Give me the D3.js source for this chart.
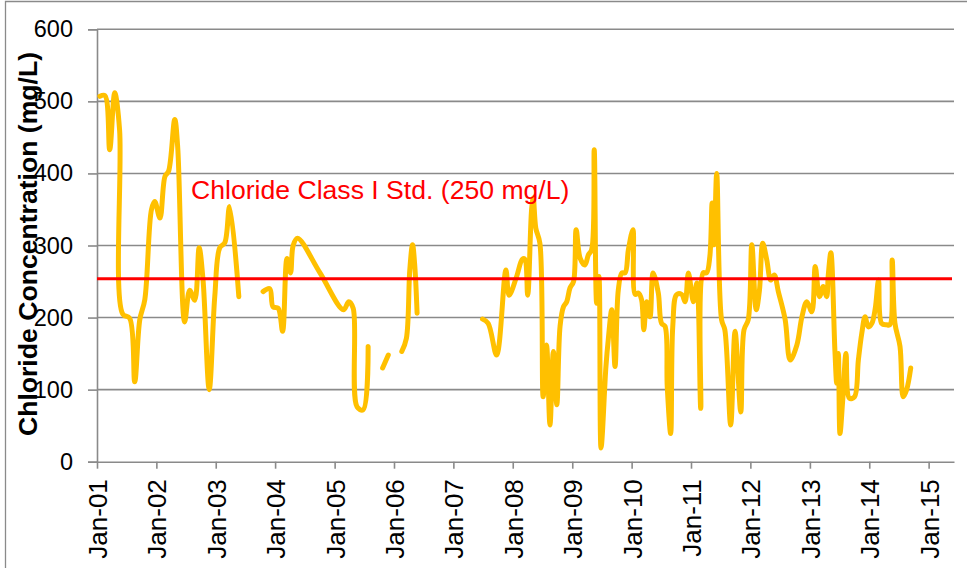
<!DOCTYPE html>
<html>
<head>
<meta charset="utf-8">
<script src="https://cdn.jsdelivr.net/npm/d3@7"></script>
<style>
  html, body { margin: 0; padding: 0; background: #fff; }
  svg { display: block; font-family: "Liberation Sans", Arial, sans-serif; }
</style>
</head>
<body>
<svg id="chart" width="967" height="568"></svg>
<script>
// ---- data ----
const yTicks = [0, 100, 200, 300, 400, 500, 600];
const stdValue = 254;
const stdLabel = "Chloride Class I Std. (250 mg/L)";
const yTitle = "Chloride Concentration (mg/L)";

const dates = [
  "2001-01-19","2001-02-19","2001-03-20","2001-04-20","2001-05-20","2001-06-08","2001-07-21","2001-08-21","2001-09-21","2001-10-22","2001-12-02","2001-12-22",
  "2002-01-23","2002-02-23","2002-03-17","2002-04-24","2002-05-12","2002-06-24","2002-07-25","2002-08-25","2002-09-21","2002-10-15","2002-11-22","2002-12-26",
  "2003-01-26","2003-02-26","2003-03-27","2003-05-23",
  "2003-08-01",
  "2003-10-19","2003-11-29","2003-12-19","2004-01-20","2004-02-16","2004-03-14","2004-04-05","2004-04-21","2004-05-18","2004-10-03",
  "2005-02-24","2005-03-29","2005-04-25","2005-05-19","2005-06-25","2005-07-26",
  "2005-09-01",
  "2005-10-23","2005-11-27",
  "2006-01-01",
  "2006-02-18","2006-03-18","2006-04-08","2006-04-25","2006-05-09","2006-05-23",
  "2007-01-01",
  "2007-06-29","2007-08-03","2007-09-24","2007-11-20","2007-12-10",
  "2008-01-25","2008-02-29","2008-03-15","2008-04-02","2008-04-26","2008-05-06","2008-05-22","2008-06-16","2008-07-06","2008-07-27","2008-08-17","2008-09-07","2008-09-28","2008-10-18","2008-11-08","2008-11-28","2008-12-18",
  "2009-01-09","2009-01-25","2009-02-19","2009-03-20","2009-04-10","2009-04-30","2009-05-16","2009-05-31","2009-06-14","2009-06-27","2009-07-27","2009-08-11","2009-09-01","2009-09-21","2009-10-11","2009-11-02","2009-11-22","2009-12-12",
  "2010-01-09","2010-01-23","2010-02-12","2010-03-03","2010-03-17","2010-04-03","2010-04-24","2010-05-13","2010-06-14","2010-07-04","2010-07-25","2010-08-08","2010-08-29","2010-09-11","2010-10-05","2010-11-05","2010-11-26","2010-12-16",
  "2011-01-16","2011-02-06","2011-03-02","2011-03-17","2011-04-07","2011-04-27","2011-05-11","2011-05-23","2011-06-08","2011-07-08","2011-07-28","2011-09-02","2011-09-29","2011-11-03","2011-11-23","2011-12-19",
  "2012-01-10","2012-02-06","2012-02-26","2012-03-17","2012-04-11","2012-05-05","2012-05-27","2012-06-21","2012-08-02","2012-09-02","2012-10-13","2012-11-13","2012-12-13",
  "2013-01-13","2013-02-03","2013-03-01","2013-03-24","2013-04-14","2013-04-24","2013-05-10","2013-06-04","2013-06-15","2013-06-25","2013-07-05","2013-07-22","2013-08-11","2013-09-01","2013-10-02","2013-10-26","2013-11-16","2013-12-06","2013-12-26",
  "2014-01-17","2014-02-07","2014-02-27","2014-03-18","2014-04-18","2014-05-08","2014-05-22","2014-06-08","2014-07-09","2014-07-29","2014-08-19","2014-09-13"
];

const chloride = [
  507,508,433,512,460,205,199,111,197,225,350,361,
  338,396,403,475,437,194,238,224,297,252,100,229,
  297,304,354,229,
  null,
  236,240,215,213,181,282,262,300,310,262,
  211,222,213,76,72,160,
  null,
  130,148,
  null,
  153,171,266,301,271,206,
  null,
  198,192,148,266,231,
  257,281,281,231,350,366,324,303,90,162,51,153,79,188,215,222,241,
  250,322,282,273,287,294,433,220,257,19,132,171,211,132,238,262,262,294,
  322,232,234,225,183,222,201,262,234,192,188,104,39,188,232,232,222,262,
  222,248,74,262,262,285,359,301,400,197,183,51,181,69,183,197,
  301,211,238,303,280,252,259,236,197,141,162,201,222,
  208,271,229,243,229,259,290,153,109,150,39,86,150,88,90,141,178,201,187,
  192,213,252,192,190,190,280,192,160,90,100,130
];

// ---- layout ----
const svg = d3.select("#chart");
const L = 97, R = 954, T = 29.3, B = 461.7;
const parse = d3.timeParse("%Y-%m-%d");
const points = dates.map((d, i) => ({ date: parse(d), value: chloride[i] }));

const x = d3.scaleTime()
  .domain([new Date(2001, 0, 1), new Date(2015, 5, 6)])
  .range([L, R]);
const y = d3.scaleLinear().domain([0, 600]).range([B, T]);

const grey = "#8a8a8a";

// outer frame
svg.append("path")
  .attr("d", `M5.5,568 V1.5 H967`)
  .attr("fill", "none").attr("stroke", grey).attr("stroke-width", 1.3);

// gridlines
svg.append("g").selectAll("line")
  .data(yTicks.filter(v => v > 0))
  .join("line")
  .attr("x1", L).attr("x2", R)
  .attr("y1", d => y(d)).attr("y2", d => y(d))
  .attr("stroke", grey).attr("stroke-width", 1.6);

// y axis
const yAxis = svg.append("g")
  .attr("transform", `translate(${L},0)`)
  .call(d3.axisLeft(y).tickValues(yTicks).tickSize(9).tickPadding(15));
yAxis.select(".domain").attr("stroke", grey).attr("stroke-width", 1.6);
yAxis.selectAll(".tick line").attr("stroke", grey).attr("stroke-width", 1.6);
yAxis.selectAll("text")
  .attr("font-size", 23.5).attr("fill", "#000")
  .attr("font-family", "'Liberation Sans', Arial, sans-serif");

// x axis
const xAxis = svg.append("g")
  .attr("transform", `translate(0,${B})`)
  .call(d3.axisBottom(x).ticks(d3.timeYear.every(1)).tickFormat(d3.timeFormat("Jan-%y")).tickSize(7).tickSizeOuter(0));
xAxis.select(".domain").attr("stroke", grey).attr("stroke-width", 1.6);
xAxis.selectAll(".tick line").attr("stroke", grey).attr("stroke-width", 1.6);
xAxis.selectAll("text")
  .attr("font-size", 26).attr("fill", "#000")
  .attr("font-family", "'Liberation Sans', Arial, sans-serif")
  .attr("transform", "rotate(-90)")
  .attr("text-anchor", "end")
  .attr("x", -17.5).attr("y", 0).attr("dy", "0.36em");

// y title
svg.append("text")
  .attr("transform", "translate(36.5,244) rotate(-90)")
  .attr("text-anchor", "middle")
  .attr("font-size", 26.6).attr("font-weight", "bold").attr("fill", "#000")
  .text(yTitle);

// data line
const line = d3.line()
  .defined(d => d.value != null)
  .x(d => x(d.date)).y(d => y(d.value))
  .curve(d3.curveCatmullRom.alpha(0.5));

svg.append("path")
  .datum(points)
  .attr("d", line)
  .attr("fill", "none")
  .attr("stroke", "#FFC000")
  .attr("stroke-width", 5)
  .attr("stroke-linejoin", "round")
  .attr("stroke-linecap", "round");

// standard line
svg.append("line")
  .attr("x1", L).attr("x2", 952)
  .attr("y1", y(stdValue)).attr("y2", y(stdValue))
  .attr("stroke", "#FF0000").attr("stroke-width", 3);

svg.append("text")
  .attr("x", 191).attr("y", 198.5)
  .attr("font-size", 26.6).attr("fill", "#FF0000")
  .text(stdLabel);
</script>
</body>
</html>
